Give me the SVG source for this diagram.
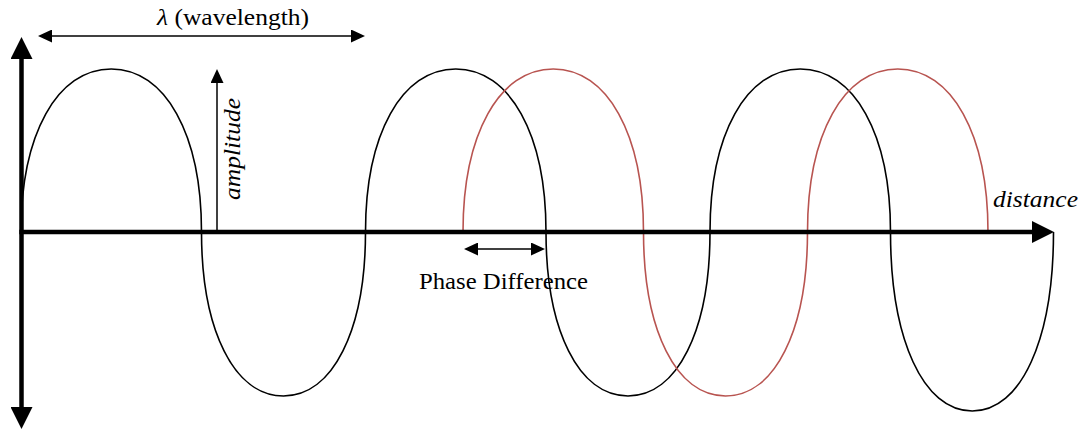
<svg xmlns="http://www.w3.org/2000/svg" width="1084" height="430" viewBox="0 0 1084 430">
<style>
.wave{fill:none;stroke-width:1.6;stroke-linejoin:round}
.black{stroke:#000}
.red{stroke:#b85450}
.axis{fill:none;stroke:#000;stroke-width:4.5}
.dim{fill:none;stroke:#000;stroke-width:1.5}
.lbl{font-family:"Liberation Serif","Times New Roman",serif;font-size:23px;fill:#000}
.it{font-style:italic}
</style>
<defs>
<marker id="big" viewBox="0 0 22 22" markerUnits="userSpaceOnUse" markerWidth="22" markerHeight="22" refX="0" refY="11" orient="auto-start-reverse">
<path d="M0,0 L22,11 L0,22 z" fill="#000"/>
</marker>
<marker id="small" viewBox="0 0 14 13" markerUnits="userSpaceOnUse" markerWidth="14" markerHeight="13" refX="0" refY="6.5" orient="auto-start-reverse">
<path d="M0,0 L14,6.5 L0,13 z" fill="#000"/>
</marker>
</defs>
<g id="wave-black">
<path class="wave black" d="M21,232 C21,134.2 57.1,69 111.25,69 C165.4,69 201.5,134.2 201.5,232 C201.5,330.4 234.3,396 283.5,396 C332.7,396 365.5,330.4 365.5,232 C365.5,134.2 401.6,69 455.75,69 C509.9,69 546,134.2 546,232 C546,330.4 578.8,396 628,396 C677.2,396 710,330.4 710,232 C710,134.2 746.1,69 800.25,69 C854.4,69 890.5,134.2 890.5,232 C890.5,339.4 923.2,411 972.25,411 C1021.3,411 1053.5,339.4 1053.5,232"/>
</g>
<g id="wave-red">
<path class="wave red" d="M463,232 C463,134.2 499.1,69 553.25,69 C607.4,69 643.5,134.2 643.5,232 C643.5,330.4 676.3,396 725.5,396 C774.7,396 807.5,330.4 807.5,232 C807.5,134.2 843.6,69 897.75,69 C951.9,69 988,134.2 988,232"/>
</g>
<g id="connectors">
<path id="y-axis" class="axis" d="M21.5,59 L21.5,407" marker-start="url(#big)" marker-end="url(#big)"/>
<path id="x-axis" class="axis" d="M19.3,232 L1032,232" marker-end="url(#big)"/>
<path id="wavelength-arrow" class="dim" d="M52,36 L351,36" marker-start="url(#small)" marker-end="url(#small)"/>
<path id="amplitude-arrow" class="dim" d="M217,232 L217,83" marker-end="url(#small)"/>
<path id="phase-arrow" class="dim" d="M478,249 L531,249" marker-start="url(#small)" marker-end="url(#small)"/>
</g>
<g id="labels">
<text class="lbl" x="233" y="25" text-anchor="middle" textLength="152" lengthAdjust="spacingAndGlyphs"><tspan class="it">λ</tspan> (wavelength)</text>
<text class="lbl" x="503.5" y="289" text-anchor="middle" textLength="169" lengthAdjust="spacingAndGlyphs">Phase Difference</text>
<text class="lbl it" x="993" y="207" textLength="85" lengthAdjust="spacingAndGlyphs">distance</text>
<text class="lbl it" transform="translate(240,200) rotate(-90)" x="0" y="0" textLength="102" lengthAdjust="spacingAndGlyphs">amplitude</text>
</g>
</svg>
